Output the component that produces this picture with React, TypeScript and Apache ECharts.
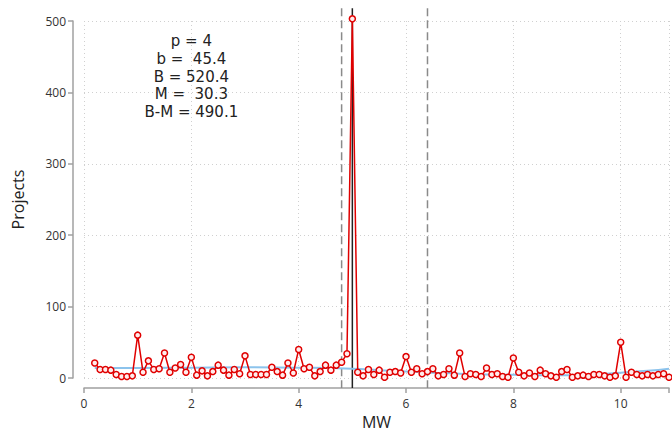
import React, { useEffect, useRef } from "react";
import * as echarts from "echarts";

const mw: number[] = [
  0.2, 0.3, 0.4, 0.5, 0.6, 0.7, 0.8, 0.9,
  1.0, 1.1, 1.2, 1.3, 1.4, 1.5, 1.6, 1.7, 1.8, 1.9,
  2.0, 2.1, 2.2, 2.3, 2.4, 2.5, 2.6, 2.7, 2.8, 2.9,
  3.0, 3.1, 3.2, 3.3, 3.4, 3.5, 3.6, 3.7, 3.8, 3.9,
  4.0, 4.1, 4.2, 4.3, 4.4, 4.5, 4.6, 4.7, 4.8, 4.9,
  5.0, 5.1, 5.2, 5.3, 5.4, 5.5, 5.6, 5.7, 5.8, 5.9,
  6.0, 6.1, 6.2, 6.3, 6.4, 6.5, 6.6, 6.7, 6.8, 6.9,
  7.0, 7.1, 7.2, 7.3, 7.4, 7.5, 7.6, 7.7, 7.8, 7.9,
  8.0, 8.1, 8.2, 8.3, 8.4, 8.5, 8.6, 8.7, 8.8, 8.9,
  9.0, 9.1, 9.2, 9.3, 9.4, 9.5, 9.6, 9.7, 9.8, 9.9,
  10.0, 10.1, 10.2, 10.3, 10.4, 10.5, 10.6, 10.7, 10.8, 10.9,
];

const projects: number[] = [
  21, 12, 12, 11, 5, 2, 2, 3,
  60, 8, 24, 12, 13, 35, 8, 14, 19, 8,
  29, 4, 10, 3, 9, 18, 11, 4, 12, 6,
  31, 5, 5, 5, 5, 15, 9, 4, 21, 7,
  40, 13, 15, 3, 9, 18, 11, 18, 22, 34,
  503, 8, 3, 12, 5, 11, 1, 8, 9, 7,
  30, 8, 13, 6, 9, 13, 3, 5, 13, 4,
  35, 2, 6, 5, 2, 14, 5, 6, 2, 1,
  28, 8, 3, 7, 2, 11, 6, 3, 1, 9,
  12, 1, 3, 4, 2, 5, 5, 3, 1, 3,
  50, 1, 8, 5, 3, 5, 3, 5, 6, 1,
];

const fitX: number[] = [0.2, 1, 2, 3, 4, 5, 5.5, 6, 6.5, 7, 7.5, 8, 8.5, 9, 9.5, 10, 10.5, 10.9];
const fitY: number[] = [14, 14, 14.5, 15, 14.5, 13, 11, 9, 7.5, 6, 5, 4.5, 4, 4, 5, 7.5, 10, 13];

const lowerBound = 4.8;
const breakPoint = 5.0;
const upperBound = 6.4;
const lineTop = 518;
const lineBottom = -14;

const annotationLines: string[] = ["p = 4", "b =  45.4", "B = 520.4", "M =  30.3", "B-M = 490.1"];
const annotationAt: [number, number] = [2, 472];

const xTicks: number[] = [0, 2, 4, 6, 8, 10];

const FONT = "Open Sans";
const ANN_FONT = "DejaVu Sans";

export default function App() {
  const ref = useRef<HTMLDivElement>(null);
  useEffect(() => {
    if (!ref.current) return;
    const chart = echarts.init(ref.current, null, { renderer: "svg" });
    chart.setOption({
      animation: false,
      backgroundColor: "#ffffff",
      grid: { left: 84, right: 0, top: 21, bottom: 52, containLabel: false },
      xAxis: {
        type: "value",
        min: 0,
        max: 10.9,
        interval: 2,
        offset: 10,
        name: "MW",
        nameLocation: "middle",
        nameGap: 26,
        nameTextStyle: { fontFamily: FONT, fontSize: 16, color: "#222" },
        axisLine: { show: true, onZero: false, lineStyle: { color: "#a0a0a0", width: 1.5 } },
        axisTick: { show: true, length: 5, lineStyle: { color: "#a0a0a0", width: 1.5 } },
        axisLabel: {
          fontFamily: FONT,
          fontSize: 12,
          color: "#333",
          margin: 9,
          formatter: (v: number) => (xTicks.indexOf(v) >= 0 ? String(v) : ""),
        },
        splitLine: { show: true, lineStyle: { type: [1, 3], color: "#d0d0d0", width: 1 } },
      },
      yAxis: {
        type: "value",
        min: 0,
        max: 500,
        interval: 100,
        offset: 11,
        name: "Projects",
        nameLocation: "middle",
        nameGap: 47,
        nameTextStyle: { fontFamily: FONT, fontSize: 16, color: "#222" },
        axisLine: { show: true, onZero: false, lineStyle: { color: "#a0a0a0", width: 1.5 } },
        axisTick: { show: true, length: 5, lineStyle: { color: "#a0a0a0", width: 1.5 } },
        axisLabel: { fontFamily: FONT, fontSize: 12, color: "#333", margin: 7 },
        splitLine: { show: true, lineStyle: { type: [1, 3], color: "#d0d0d0", width: 1 } },
      },
      series: [
        {
          type: "line",
          name: "fit",
          data: fitX.map((x, i) => [x, fitY[i]]),
          smooth: true,
          showSymbol: false,
          clip: false,
          lineStyle: { color: "#8cc3ec", width: 2 },
          z: 2,
        },
        {
          type: "line",
          name: "Projects",
          data: mw.map((x, i) => [x, projects[i]]),
          clip: false,
          symbol: "circle",
          symbolSize: 6,
          showSymbol: true,
          lineStyle: { color: "#e00000", width: 1.5 },
          itemStyle: { color: "#ffecec", borderColor: "#e00000", borderWidth: 1.5 },
          z: 3,
        },
      ],
    });

    const px = (x: number, y: number) => chart.convertToPixel({ gridIndex: 0 }, [x, y]) as number[];
    const vline = (x: number, color: string, dash: any, z: number) => {
      const a = px(x, lineTop);
      const b = px(x, lineBottom);
      return {
        type: "line",
        silent: true,
        z,
        shape: { x1: a[0], y1: a[1], x2: b[0], y2: b[1] },
        style: { stroke: color, lineWidth: 1.5, lineDash: dash },
      };
    };
    const ann = px(annotationAt[0], annotationAt[1]);
    const texts = annotationLines.map((t, i) => ({
      type: "text",
      x: ann[0],
      y: ann[1] + i * 17.8,
      z: 10,
      style: {
        text: t,
        fontFamily: ANN_FONT,
        fontSize: 15,
        fill: "#222",
        align: "center",
        verticalAlign: "middle",
      },
    }));
    chart.setOption({
      graphic: [
        vline(lowerBound, "#8a8a8a", [8, 4], 1),
        vline(breakPoint, "#222222", null, 1),
        vline(upperBound, "#8a8a8a", [8, 4], 1),
        ...texts,
      ],
    });
    return () => chart.dispose();
  }, []);
  return <div ref={ref} style={{ width: 672, height: 435, position: "absolute", left: 0, top: 0 }} />;
}
